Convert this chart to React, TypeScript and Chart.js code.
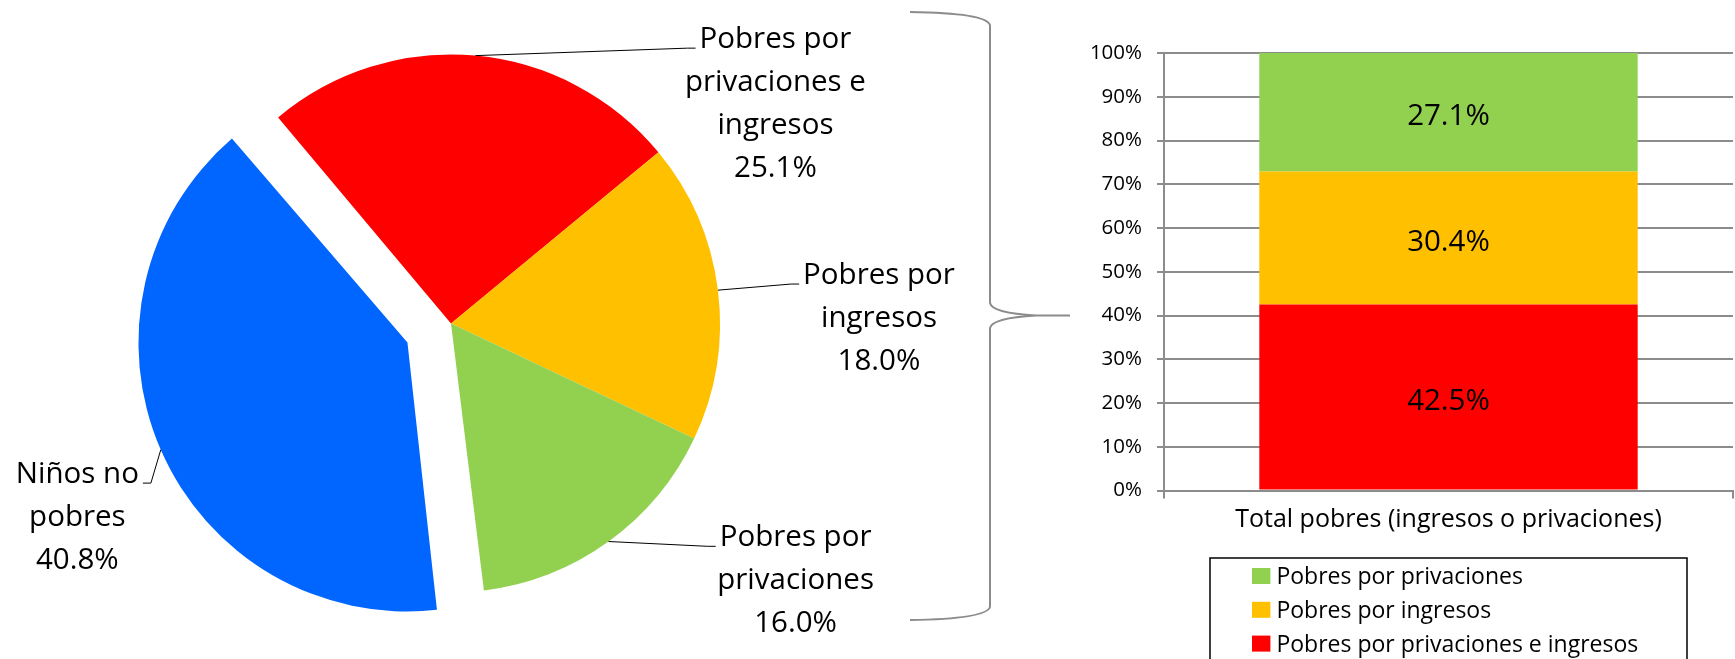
import React, { useEffect, useRef } from "react";
import { Chart, registerables } from "chart.js";

Chart.register(...registerables);

// ---------- DATA ----------
const pieCategories: string[][] = [
  ["Pobres por", "privaciones e", "ingresos"],
  ["Pobres por", "ingresos"],
  ["Pobres por", "privaciones"],
  ["Niños no", "pobres"],
];
const pieValues = [25.1, 18.0, 16.0, 40.8];
const pieColors = ["#FF0000", "#FFC000", "#92D050", "#0066FF"];
const pieExploded = [false, false, false, true];

const barCategories = ["Total pobres (ingresos o privaciones)"];
const barSeriesNames = [
  "Pobres por privaciones e ingresos",
  "Pobres por ingresos",
  "Pobres por privaciones",
];
const barPrivIngresos = [42.5];
const barIngresos = [30.4];
const barPrivaciones = [27.1];
const barColors = ["#FF0000", "#FFC000", "#92D050"];
const yTickMin = 0;
const yTickMax = 100;
const yTickStep = 10;

// ---------- STYLE ----------
const FONT = "'Open Sans', 'Noto Sans', sans-serif";
const GRAY = "#8c8c8c";
const PIE_RADIUS = 269;
const EXPLODE_PX = 47.5;
const PIE_LABEL_FONT = 29.5;
const PIE_LINE_H = 43;
// label block centres, in units of the pie radius relative to the pie centre
const PIE_LABEL_PLACE: [number, number][] = [
  [1.206, -0.823],
  [1.591, -0.026],
  [1.281, 0.949],
  [-1.389, 0.714],
];

function radiusFix(arc: any) {
  const off = ((arc.options && arc.options.offset) || 0) / 4;
  return off * (1 - Math.sin(Math.min(Math.PI, arc.circumference || 0)));
}

const fixExplodePlugin = {
  id: "fixExplode",
  afterDatasetsUpdate(chart: any) {
    const meta = chart.getDatasetMeta(0);
    meta.data.forEach((arc: any) => {
      arc.outerRadius -= radiusFix(arc);
    });
  },
};

const pieLabelPlugin = {
  id: "pieLabels",
  afterDraw(chart: any) {
    const ctx = chart.ctx;
    const meta = chart.getDatasetMeta(0);
    ctx.save();
    ctx.font = `${PIE_LABEL_FONT}px ${FONT}`;
    ctx.fillStyle = "#000";
    ctx.strokeStyle = "#000";
    ctx.lineWidth = 1;
    const cap = PIE_LABEL_FONT * 0.357;
    meta.data.forEach((arc: any, i: number) => {
      const { x, y, startAngle, endAngle } = arc;
      const drawnR = arc.outerRadius + radiusFix(arc);
      const mid = (startAngle + endAngle) / 2;
      const t = ((arc.options && arc.options.offset) || 0) / 4;
      const ox = x + Math.cos(mid) * t;
      const oy = y + Math.sin(mid) * t;
      const ex = ox + Math.cos(mid) * drawnR;
      const ey = oy + Math.sin(mid) * drawnR;
      const [fx, fy] = PIE_LABEL_PLACE[i];
      const cx = x + fx * PIE_RADIUS;
      const cy = y + fy * PIE_RADIUS;
      const lines = [...pieCategories[i], pieValues[i].toFixed(1) + "%"];
      const n = lines.length;
      ctx.textAlign = "center";
      ctx.textBaseline = "alphabetic";
      const baselines: number[] = [];
      lines.forEach((ln, k) => {
        const b = cy + (k - (n - 1) / 2) * PIE_LINE_H + cap;
        baselines.push(b);
        ctx.fillText(ln, cx, b);
      });
      const w0 = ctx.measureText(lines[0]).width;
      let elbowX: number, endX: number;
      if (fx > 0) {
        const left = cx - w0 / 2;
        elbowX = left - 12;
        endX = left - 4;
      } else {
        const right = cx + w0 / 2;
        elbowX = right + 12;
        endX = right + 4;
      }
      ctx.beginPath();
      ctx.moveTo(ex, ey);
      ctx.lineTo(elbowX, baselines[0]);
      ctx.lineTo(endX, baselines[0]);
      ctx.stroke();
    });
    ctx.restore();
  },
};

const bracePlugin = {
  id: "brace",
  afterDraw(chart: any) {
    const ctx = chart.ctx;
    ctx.save();
    ctx.strokeStyle = GRAY;
    ctx.lineWidth = 2;
    ctx.beginPath();
    ctx.moveTo(910, 12);
    ctx.quadraticCurveTo(986, 13, 990, 25);
    ctx.lineTo(990, 303);
    ctx.quadraticCurveTo(992, 313, 1036, 315.5);
    ctx.lineTo(1070, 315.5);
    ctx.moveTo(1036, 315.5);
    ctx.quadraticCurveTo(992, 318, 990, 328);
    ctx.lineTo(990, 607);
    ctx.quadraticCurveTo(986, 619, 910, 620);
    ctx.stroke();
    ctx.restore();
  },
};

const barValuePlugin = {
  id: "barValues",
  afterDatasetsDraw(chart: any) {
    const ctx = chart.ctx;
    ctx.save();
    ctx.font = `29.5px ${FONT}`;
    ctx.fillStyle = "#000";
    ctx.textAlign = "center";
    ctx.textBaseline = "alphabetic";
    chart.data.datasets.forEach((ds: any, di: number) => {
      const meta = chart.getDatasetMeta(di);
      meta.data.forEach((el: any, j: number) => {
        const v = ds.data[j];
        const cy = (el.y + el.base) / 2 + 2;
        ctx.fillText(v.toFixed(1) + "%", el.x, cy + 29.5 * 0.357);
      });
    });
    ctx.restore();
  },
};

const legendBoxPlugin = {
  id: "legendBox",
  afterDraw(chart: any) {
    const ctx = chart.ctx;
    const area = chart.chartArea;
    const boxW = 477;
    const left = (area.left + area.right) / 2 - boxW / 2;
    const top = area.bottom + 67.5;
    ctx.save();
    ctx.strokeStyle = "#000";
    ctx.lineWidth = 1.5;
    ctx.strokeRect(left, top, boxW, 200);
    ctx.font = `23px ${FONT}`;
    ctx.textAlign = "left";
    ctx.textBaseline = "alphabetic";
    const ds = chart.data.datasets.slice().reverse();
    ds.forEach((d: any, k: number) => {
      const sy = top + 10 + k * 33.8;
      ctx.fillStyle = d.backgroundColor;
      ctx.fillRect(left + 42, sy, 18.4, 16);
      ctx.fillStyle = "#000";
      ctx.fillText(d.label, left + 42 + 24.4, sy + 8 + 23 * 0.357);
    });
    ctx.restore();
  },
};

export default function App() {
  const pieRef = useRef<HTMLCanvasElement>(null);
  const barRef = useRef<HTMLCanvasElement>(null);

  useEffect(() => {
    const pie = new Chart(pieRef.current as HTMLCanvasElement, {
      type: "pie",
      data: {
        labels: pieCategories.map((l) => l.join(" ")),
        datasets: [
          {
            data: pieValues,
            backgroundColor: pieColors,
            borderWidth: 0,
            offset: pieExploded.map((e) => (e ? EXPLODE_PX * 4 : 0)),
          } as any,
        ],
      },
      options: {
        responsive: false,
        animation: false,
        rotation: -40,
        radius: PIE_RADIUS,
        layout: { padding: { left: 0, top: 0, right: 198, bottom: 12 } },
        plugins: { legend: { display: false }, tooltip: { enabled: false } },
      } as any,
      plugins: [fixExplodePlugin, pieLabelPlugin, bracePlugin],
    });

    const barSeries = [barPrivIngresos, barIngresos, barPrivaciones];
    const bar = new Chart(barRef.current as HTMLCanvasElement, {
      type: "bar",
      data: {
        labels: barCategories,
        datasets: barSeriesNames.map((name, i) => ({
          label: name,
          data: barSeries[i],
          backgroundColor: barColors[i],
          borderWidth: 0,
          barPercentage: 1,
          categoryPercentage: 0.665,
        })),
      },
      options: {
        responsive: false,
        animation: false,
        layout: { padding: { top: 53, right: 2, bottom: 0, left: 0 } },
        plugins: { legend: { display: false }, tooltip: { enabled: false } },
        scales: {
          x: {
            stacked: true,
            grid: {
              display: true,
              drawOnChartArea: false,
              drawTicks: true,
              tickLength: 8,
              color: GRAY,
              lineWidth: 2,
              offset: true,
            },
            border: { display: true, color: GRAY, width: 2 },
            ticks: {
              font: { family: FONT, size: 25 },
              color: "#000",
              padding: 6,
              maxRotation: 0,
            },
            afterFit(s: any) {
              s.height = 168.5;
            },
          },
          y: {
            stacked: true,
            min: yTickMin,
            max: yTickMax,
            ticks: {
              stepSize: yTickStep,
              callback: (v: any) => v + "%",
              font: { family: FONT, size: 20.5 },
              color: "#000",
              padding: 15,
            },
            grid: { color: GRAY, lineWidth: 2, tickLength: 7, drawTicks: true },
            border: { display: true, color: GRAY, width: 2 },
            afterFit(s: any) {
              s.width = 104;
            },
          },
        },
      } as any,
      plugins: [barValuePlugin, legendBoxPlugin],
    });

    return () => {
      pie.destroy();
      bar.destroy();
    };
  }, []);

  return (
    <div
      style={{
        position: "fixed",
        left: 0,
        top: 0,
        width: 1735,
        height: 659,
        overflow: "hidden",
        background: "#fff",
      }}
    >
      <canvas
        ref={pieRef}
        width={1100}
        height={659}
        style={{ position: "absolute", left: 0, top: 0, width: 1100, height: 659 }}
      />
      <canvas
        ref={barRef}
        width={675}
        height={659}
        style={{ position: "absolute", left: 1060, top: 0, width: 675, height: 659 }}
      />
    </div>
  );
}
